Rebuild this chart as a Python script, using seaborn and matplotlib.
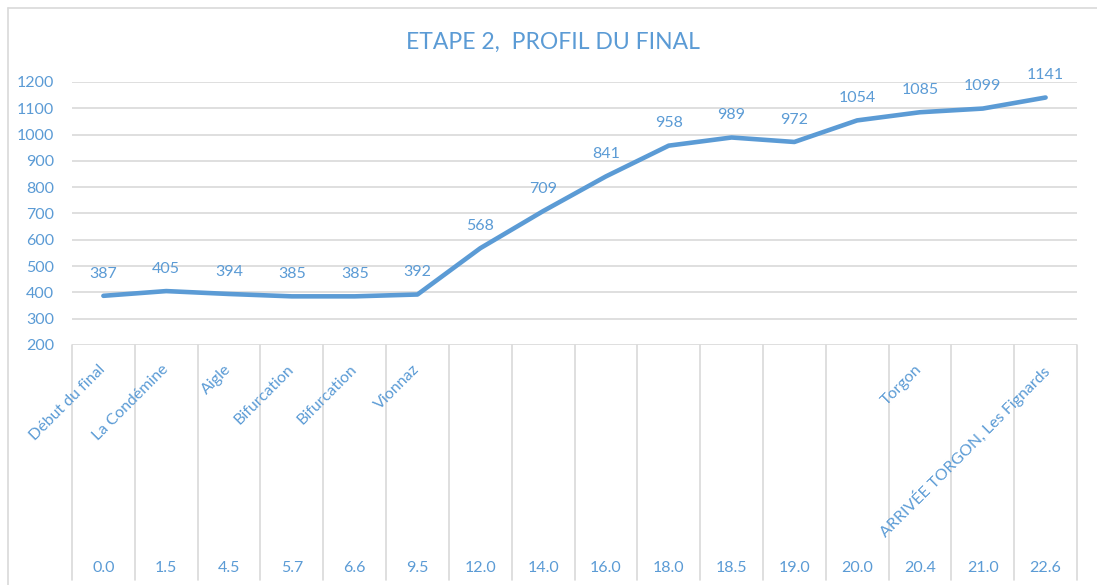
import numpy as np
import pandas as pd
import matplotlib
matplotlib.use("Agg")
import matplotlib.pyplot as plt
import matplotlib.transforms as mtrans
from matplotlib.lines import Line2D
import seaborn as sns

# ---- data ----
distances = ["0.0", "1.5", "4.5", "5.7", "6.6", "9.5", "12.0", "14.0", "16.0",
             "18.0", "18.5", "19.0", "20.0", "20.4", "21.0", "22.6"]
places = ["Début du final", "La Condémine", "Aigle", "Bifurcation", "Bifurcation",
          "Vionnaz", "", "", "", "", "", "", "", "Torgon", "",
          "ARRIVÉE TORGON, Les Fignards"]
altitude = [387, 405, 394, 385, 385, 392, 568, 709, 841, 958, 989, 972,
            1054, 1085, 1099, 1141]
y_ticks = [200, 300, 400, 500, 600, 700, 800, 900, 1000, 1100, 1200]
title = "ETAPE 2,  PROFIL DU FINAL"

BLUE = "#5B9BD5"
GRID = "#D9D9D9"

sns.set_theme(style="white")
plt.rcParams["font.family"] = ["Lato", "DejaVu Sans"]

W, H = 1097, 585
fig = plt.figure(figsize=(W / 100, H / 100), dpi=100)
x0, x1, ytop, ybot = 72, 1077, 82, 345
ax = fig.add_axes([x0 / W, 1 - ybot / H, (x1 - x0) / W, (ybot - ytop) / H])

df = pd.DataFrame({"pos": np.arange(len(altitude)), "alt": altitude})
sns.lineplot(data=df, x="pos", y="alt", ax=ax, color=BLUE, linewidth=3.3,
             solid_capstyle="round", solid_joinstyle="round")

n = len(altitude)
ax.set_xlim(-0.5, n - 0.5)
ax.set_ylim(200, 1200)
ax.set_yticks(y_ticks)
ax.set_yticklabels([str(v) for v in y_ticks], color=BLUE, fontsize=11.5)
ax.set_xticks([])
ax.set_xlabel("")
ax.set_ylabel("")
ax.tick_params(axis="y", length=0, pad=13)
for s in ax.spines.values():
    s.set_visible(False)
for v in y_ticks:
    ax.axhline(v, color=GRID, lw=1.2, zorder=0)

# data labels
for i, v in enumerate(altitude):
    ax.annotate(str(v), (i, v), xytext=(0, 11), textcoords="offset points",
                ha="center", va="bottom", color=BLUE, fontsize=11.5)

# category axis: separators and labels
trans = mtrans.blended_transform_factory(ax.transData, ax.transAxes)
axh = ybot - ytop
y_sep_end = (ybot - 580) / axh
for b in np.arange(-0.5, n, 1.0):
    ax.add_line(Line2D([b, b], [0, y_sep_end], transform=trans, color=GRID,
                       lw=1.2, clip_on=False))
y_dist = (ybot - 568) / axh
y_name = (ybot - 362) / axh
for i in range(n):
    ax.text(i, y_dist, distances[i], transform=trans, ha="center", va="center",
            color=BLUE, fontsize=11.5, clip_on=False)
    if places[i]:
        ax.text(i - 0.08, y_name, places[i], transform=trans, ha="right", va="top",
                rotation=45, rotation_mode="anchor", color=BLUE, fontsize=11.5,
                clip_on=False)

fig.text(553 / W, 1 - 42 / H, title, ha="center", va="center", color=BLUE,
         fontsize=16.5)

# chart area border (left and top)
fig.add_artist(Line2D([8 / W, 8 / W], [0, 1 - 8 / H], transform=fig.transFigure,
                      color=GRID, lw=1.2))
fig.add_artist(Line2D([8 / W, 1], [1 - 8 / H, 1 - 8 / H], transform=fig.transFigure,
                      color=GRID, lw=1.2))

fig.savefig("out.png", dpi=100)
